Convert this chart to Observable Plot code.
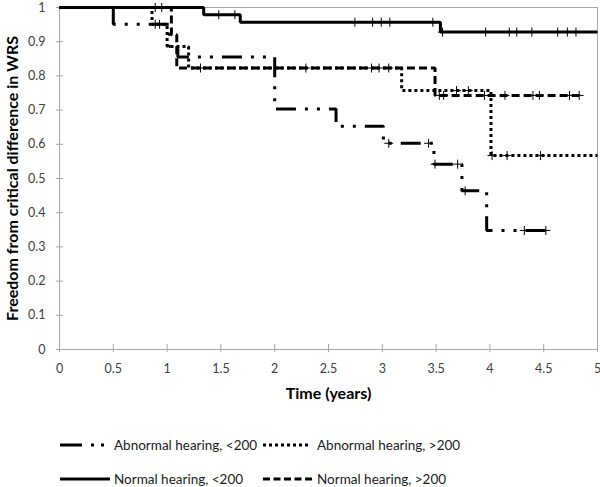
<!DOCTYPE html>
<html><head><meta charset="utf-8">
<script src="https://cdn.jsdelivr.net/npm/d3@7"></script>
<script src="https://cdn.jsdelivr.net/npm/@observablehq/plot@0.6"></script>
<style>
body{margin:0;background:#fff;font-family:Lato,sans-serif}
#chart svg,#legend svg{display:block}
</style></head><body><div id="chart"></div><div id="legend"></div>
<script>
// ---- data (Kaplan–Meier steps) ----
const seriesNames = ["Abnormal hearing, <200", "Abnormal hearing, >200", "Normal hearing, <200", "Normal hearing, >200"];

const abnLowTime = [0, 0.50, 1.02, 1.10, 2.00, 2.57, 3.01, 3.48, 3.74, 3.97, 4.52];
const abnLowSurv = [1, 0.951, 0.886, 0.855, 0.703, 0.653, 0.603, 0.542, 0.464, 0.348, 0.348];
const abnLowCensor = [0.93, 3.06, 3.43, 3.49, 3.70, 3.77, 4.32, 4.52];

const abnHighTime = [0, 0.86, 1.00, 1.20, 3.18, 4.01, 5];
const abnHighSurv = [1, 0.951, 0.886, 0.823, 0.757, 0.567, 0.567];
const abnHighCensor = [0.89, 3.69, 3.80, 4.02, 4.16, 4.47];

const normLowTime = [0, 1.34, 1.68, 3.54, 5];
const normLowSurv = [1, 0.979, 0.957, 0.928, 0.928];
const normLowCensor = [0.89, 0.95, 1.48, 1.63, 2.745, 2.91, 2.99, 3.07, 3.47, 3.56, 3.96, 4.18, 4.25, 4.39, 4.63, 4.72, 4.80];

const normHighTime = [0, 1.04, 1.09, 3.49, 4.83];
const normHighSurv = [1, 0.92, 0.823, 0.743, 0.743];
const normHighCensor = [1.31, 2.29, 2.90, 2.97, 3.06, 3.53, 3.57, 3.95, 4.14, 4.40, 4.46, 4.74, 4.83];

const xTicks = [0, 0.5, 1, 1.5, 2, 2.5, 3, 3.5, 4, 4.5, 5];
const yTicks = [0, 0.1, 0.2, 0.3, 0.4, 0.5, 0.6, 0.7, 0.8, 0.9, 1];
const xLabel = "Time (years)";
const yLabel = "Freedom from critical difference in WRS";

// ---- build tables ----
const series = [
  {name: seriesNames[0], t: abnLowTime, s: abnLowSurv, c: abnLowCensor, dash: "20,9,3,9,3,9", legendDash: "22,9,3,7,3,9"},
  {name: seriesNames[1], t: abnHighTime, s: abnHighSurv, c: abnHighCensor, dash: "3,3", legendDash: "3,3"},
  {name: seriesNames[2], t: normLowTime, s: normLowSurv, c: normLowCensor, dash: null, legendDash: null},
  {name: seriesNames[3], t: normHighTime, s: normHighSurv, c: normHighCensor, dash: "8,4", legendDash: "7,3.5"}
];
function stepValue(ser, time) {
  let v = ser.s[0];
  ser.t.forEach((tt, i) => { if (tt <= time) v = ser.s[i]; });
  return v;
}
const marks = [Plot.frame({stroke: "#a6a6a6"})];
// ticks crossing axes
marks.push(Plot.axisX({ticks: xTicks, tickSize: 8, dy: -5, stroke: "#a6a6a6", tickFormat: () => "", label: null}));
marks.push(Plot.axisY({ticks: yTicks, tickSize: 7, dx: 4, stroke: "#a6a6a6", tickFormat: () => "", label: null}));
marks.push(Plot.axisX({ticks: xTicks, tickSize: 0, tickPadding: 15, fill: "#404040", fontSize: 12.5, tickFormat: d => String(d), label: null}));
marks.push(Plot.axisY({ticks: yTicks, tickSize: 0, tickPadding: 14, fill: "#404040", fontSize: 12.5, tickFormat: d => String(d), label: null}));
for (const ser of [series[1], series[3], series[0], series[2]]) {
  const pts = ser.t.map((tt, i) => ({t: tt, s: ser.s[i]}));
  marks.push(Plot.line(pts, {x: "t", y: "s", curve: "step-after", stroke: "black", strokeWidth: 3,
    strokeDasharray: ser.dash || undefined, strokeLinecap: "butt", strokeLinejoin: "miter"}));
}
for (const ser of series) {
  const cs = ser.c.map(tt => ({t: tt, s: stepValue(ser, tt)}));
  marks.push(Plot.dot(cs, {x: "t", y: "s", symbol: "plus", r: 3, stroke: "black", strokeWidth: 1}));
}
marks.push(Plot.text([xLabel], {frameAnchor: "bottom", dy: 44, fontWeight: "bold", fontSize: 16, fill: "black", lineAnchor: "middle"}));
marks.push(Plot.text([yLabel], {frameAnchor: "left", dx: -47, rotate: -90, textAnchor: "middle", lineAnchor: "middle", fontWeight: "bold", fontSize: 16, fill: "black"}));

const chart = Plot.plot({
  width: 600, height: 410,
  marginTop: 7, marginBottom: 61, marginLeft: 59, marginRight: 3,
  style: {fontFamily: "Lato, sans-serif", fontSize: "13px", background: "white"},
  x: {domain: [0, 5], label: null},
  y: {domain: [0, 1], label: null},
  marks
});
document.getElementById("chart").appendChild(chart);

// ---- legend ----
const legendItems = [
  {ser: series[0], x1: 60, x2: 105, tx: 114, y: 35},
  {ser: series[1], x1: 263, x2: 311, tx: 317, y: 35},
  {ser: series[2], x1: 60, x2: 110, tx: 114, y: 69},
  {ser: series[3], x1: 263, x2: 312, tx: 317, y: 69}
];
const lsvg = d3.select("#legend").append("svg").attr("width", 600).attr("height", 77)
  .style("font-family", "Lato, sans-serif").style("font-size", "13.5px");
for (const it of legendItems) {
  lsvg.append("line").attr("x1", it.x1).attr("x2", it.x2).attr("y1", it.y).attr("y2", it.y)
    .attr("stroke", "black").attr("stroke-width", 3)
    .attr("stroke-dasharray", it.ser.legendDash);
  lsvg.append("text").attr("x", it.tx).attr("y", it.y).attr("dy", "0.35em").attr("fill", "#1a1a1a").text(it.ser.name);
}
</script></body></html>
